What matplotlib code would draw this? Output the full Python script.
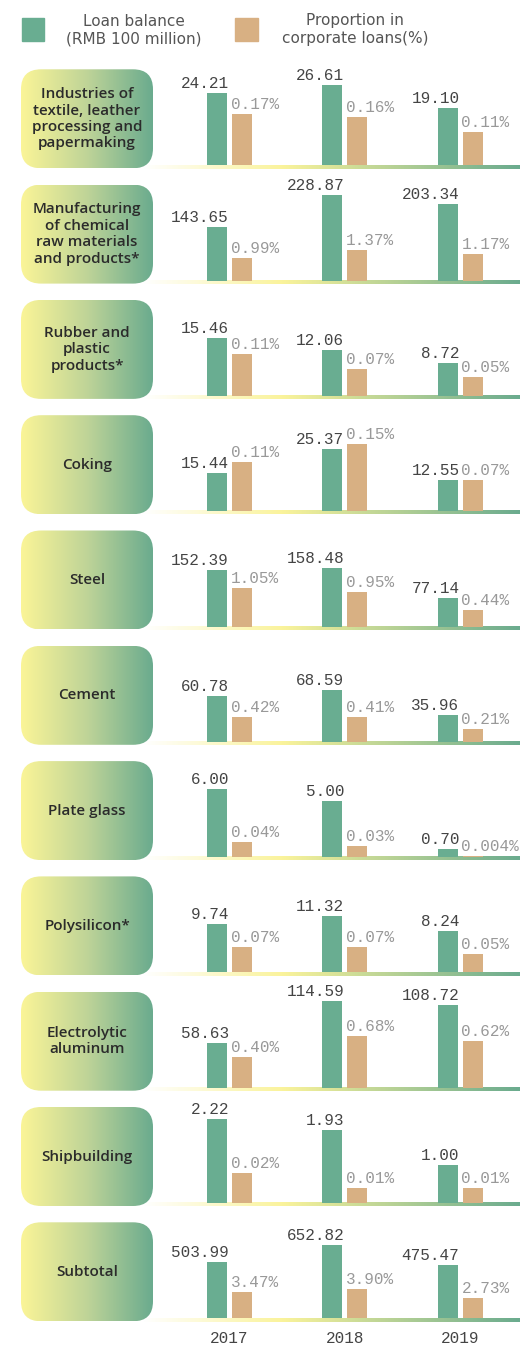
import numpy as np
import matplotlib
matplotlib.use("Agg")
import matplotlib.pyplot as plt
from matplotlib.patches import FancyBboxPatch, Rectangle
from matplotlib.colors import LinearSegmentedColormap

# ---------------- data ----------------
categories = [
    "Industries of\ntextile, leather\nprocessing and\npapermaking",
    "Manufacturing\nof chemical\nraw materials\nand products*",
    "Rubber and\nplastic\nproducts*",
    "Coking",
    "Steel",
    "Cement",
    "Plate glass",
    "Polysilicon*",
    "Electrolytic\naluminum",
    "Shipbuilding",
    "Subtotal",
]
years = ["2017", "2018", "2019"]
loan_balance = [
    [24.21, 26.61, 19.10],
    [143.65, 228.87, 203.34],
    [15.46, 12.06, 8.72],
    [15.44, 25.37, 12.55],
    [152.39, 158.48, 77.14],
    [60.78, 68.59, 35.96],
    [6.00, 5.00, 0.70],
    [9.74, 11.32, 8.24],
    [58.63, 114.59, 108.72],
    [2.22, 1.93, 1.00],
    [503.99, 652.82, 475.47],
]
loan_share = [
    [0.17, 0.16, 0.11],
    [0.99, 1.37, 1.17],
    [0.11, 0.07, 0.05],
    [0.11, 0.15, 0.07],
    [1.05, 0.95, 0.44],
    [0.42, 0.41, 0.21],
    [0.04, 0.03, 0.004],
    [0.07, 0.07, 0.05],
    [0.40, 0.68, 0.62],
    [0.02, 0.01, 0.01],
    [3.47, 3.90, 2.73],
]
# per-panel axis maxima (each small chart has its own scale)
loan_axis_max = [33.3, 266.0, 26.5, 40.5, 268.8, 133.3, 8.85, 20.0, 132.1, 2.653, 892.9]
share_axis_max = [0.333, 4.44, 0.261, 0.224, 2.72, 1.68, 0.263, 0.276, 1.316, 0.0676, 13.33]

# ---------------- style ----------------
GREEN = "#69ad91"
ORANGE = "#d8b083"
NUM_FONT = "Liberation Mono"
W, H, DPI = 525, 1346, 100

fig = plt.figure(figsize=(W / DPI, H / DPI), dpi=DPI)
bg = fig.add_axes([0, 0, 1, 1])
bg.axis("off")

box_cmap = LinearSegmentedColormap.from_list("box", ["#fbf597", "#bfd498", "#6aab8e"])
line_cmap = LinearSegmentedColormap.from_list(
    "line", [(0, "#ffffff"), (0.37, "#faf39b"), (1, "#6aab8e")])
grad = np.linspace(0, 1, 256).reshape(1, -1)

base0, step = 165.3, 115.3
AX_L, AX_R = 140, 520
PANEL_H = 100
k0, kstep = 229.5, 115.25
xmin = (AX_L - k0) / kstep
xmax = (AX_R - k0) / kstep
bw = 20 / kstep
off = 12.5 / kstep
x = np.arange(len(years))

# legend
bg.add_patch(Rectangle((22, 18), 22, 23, color=GREEN))
bg.text(134, 30, "Loan balance\n(RMB 100 million)", ha="center", va="center",
        color="#555555", fontsize=11, linespacing=1.25, family="DejaVu Sans")
bg.add_patch(Rectangle((235, 18), 23, 23, color=ORANGE))
bg.text(355, 30, "Proportion in\ncorporate loans(%)", ha="center", va="center",
        color="#555555", fontsize=11, linespacing=1.25, family="DejaVu Sans")

n = len(categories)
for i in range(n):
    b = base0 + step * i
    # gradient baseline (beneath the box)
    bg.imshow(grad, cmap=line_cmap, extent=(143, 520, b + 3.3, b),
              aspect="auto", interpolation="bilinear", zorder=1)
    # label box with gradient
    patch = FancyBboxPatch((21, b - 96), 132, 99,
                           boxstyle="round,pad=0,rounding_size=20",
                           facecolor="none", edgecolor="none")
    bg.add_patch(patch)
    im = bg.imshow(grad, cmap=box_cmap, extent=(21, 153, b + 3, b - 96),
                   aspect="auto", interpolation="bilinear", zorder=2)
    im.set_clip_path(patch)
    bg.text(87, b - 46.5, categories[i], ha="center", va="center",
            color="#2b2b2b", fontsize=11, linespacing=1.22, fontweight="semibold",
            family=["Open Sans", "DejaVu Sans"], zorder=3)

    ax = fig.add_axes([AX_L / W, 1 - b / H, (AX_R - AX_L) / W, PANEL_H / H])
    ax.set_xlim(xmin, xmax)
    ax.set_ylim(0, loan_axis_max[i])
    ax.patch.set_alpha(0)
    ax2 = ax.twinx()
    ax2.set_ylim(0, share_axis_max[i])
    ax2.patch.set_alpha(0)
    ax2.set_axis_off()

    ax.bar(x - off, loan_balance[i], width=bw, color=GREEN, zorder=2)
    ax2.bar(x + off, loan_share[i], width=bw, color=ORANGE, zorder=2)
    for k in range(len(years)):
        v = loan_balance[i][k]
        ax.annotate(f"{v:.2f}", xy=(x[k] - off + bw / 2, v), xytext=(2, 5),
                    textcoords="offset pixels", ha="right", va="baseline",
                    fontsize=11.5, family=NUM_FONT, color="#444444")
        s = loan_share[i][k]
        dec = 3 if s < 0.01 else 2
        ax2.annotate(f"{s:.{dec}f}%", xy=(x[k] + off - bw / 2, s), xytext=(-1, 5),
                     textcoords="offset pixels", ha="left", va="baseline",
                     fontsize=11.5, family=NUM_FONT, color="#999999")

    for sp in ax.spines.values():
        sp.set_visible(False)
    ax.set_yticks([])
    if i == n - 1:
        ax.set_xticks(x)
        ax.set_xticklabels(years, family=NUM_FONT, fontsize=11.5, color="#444444")
        ax.tick_params(axis="x", length=0, pad=9)
    else:
        ax.set_xticks([])

bg.set_xlim(0, W)
bg.set_ylim(H, 0)

fig.savefig("out.png", dpi=DPI)
